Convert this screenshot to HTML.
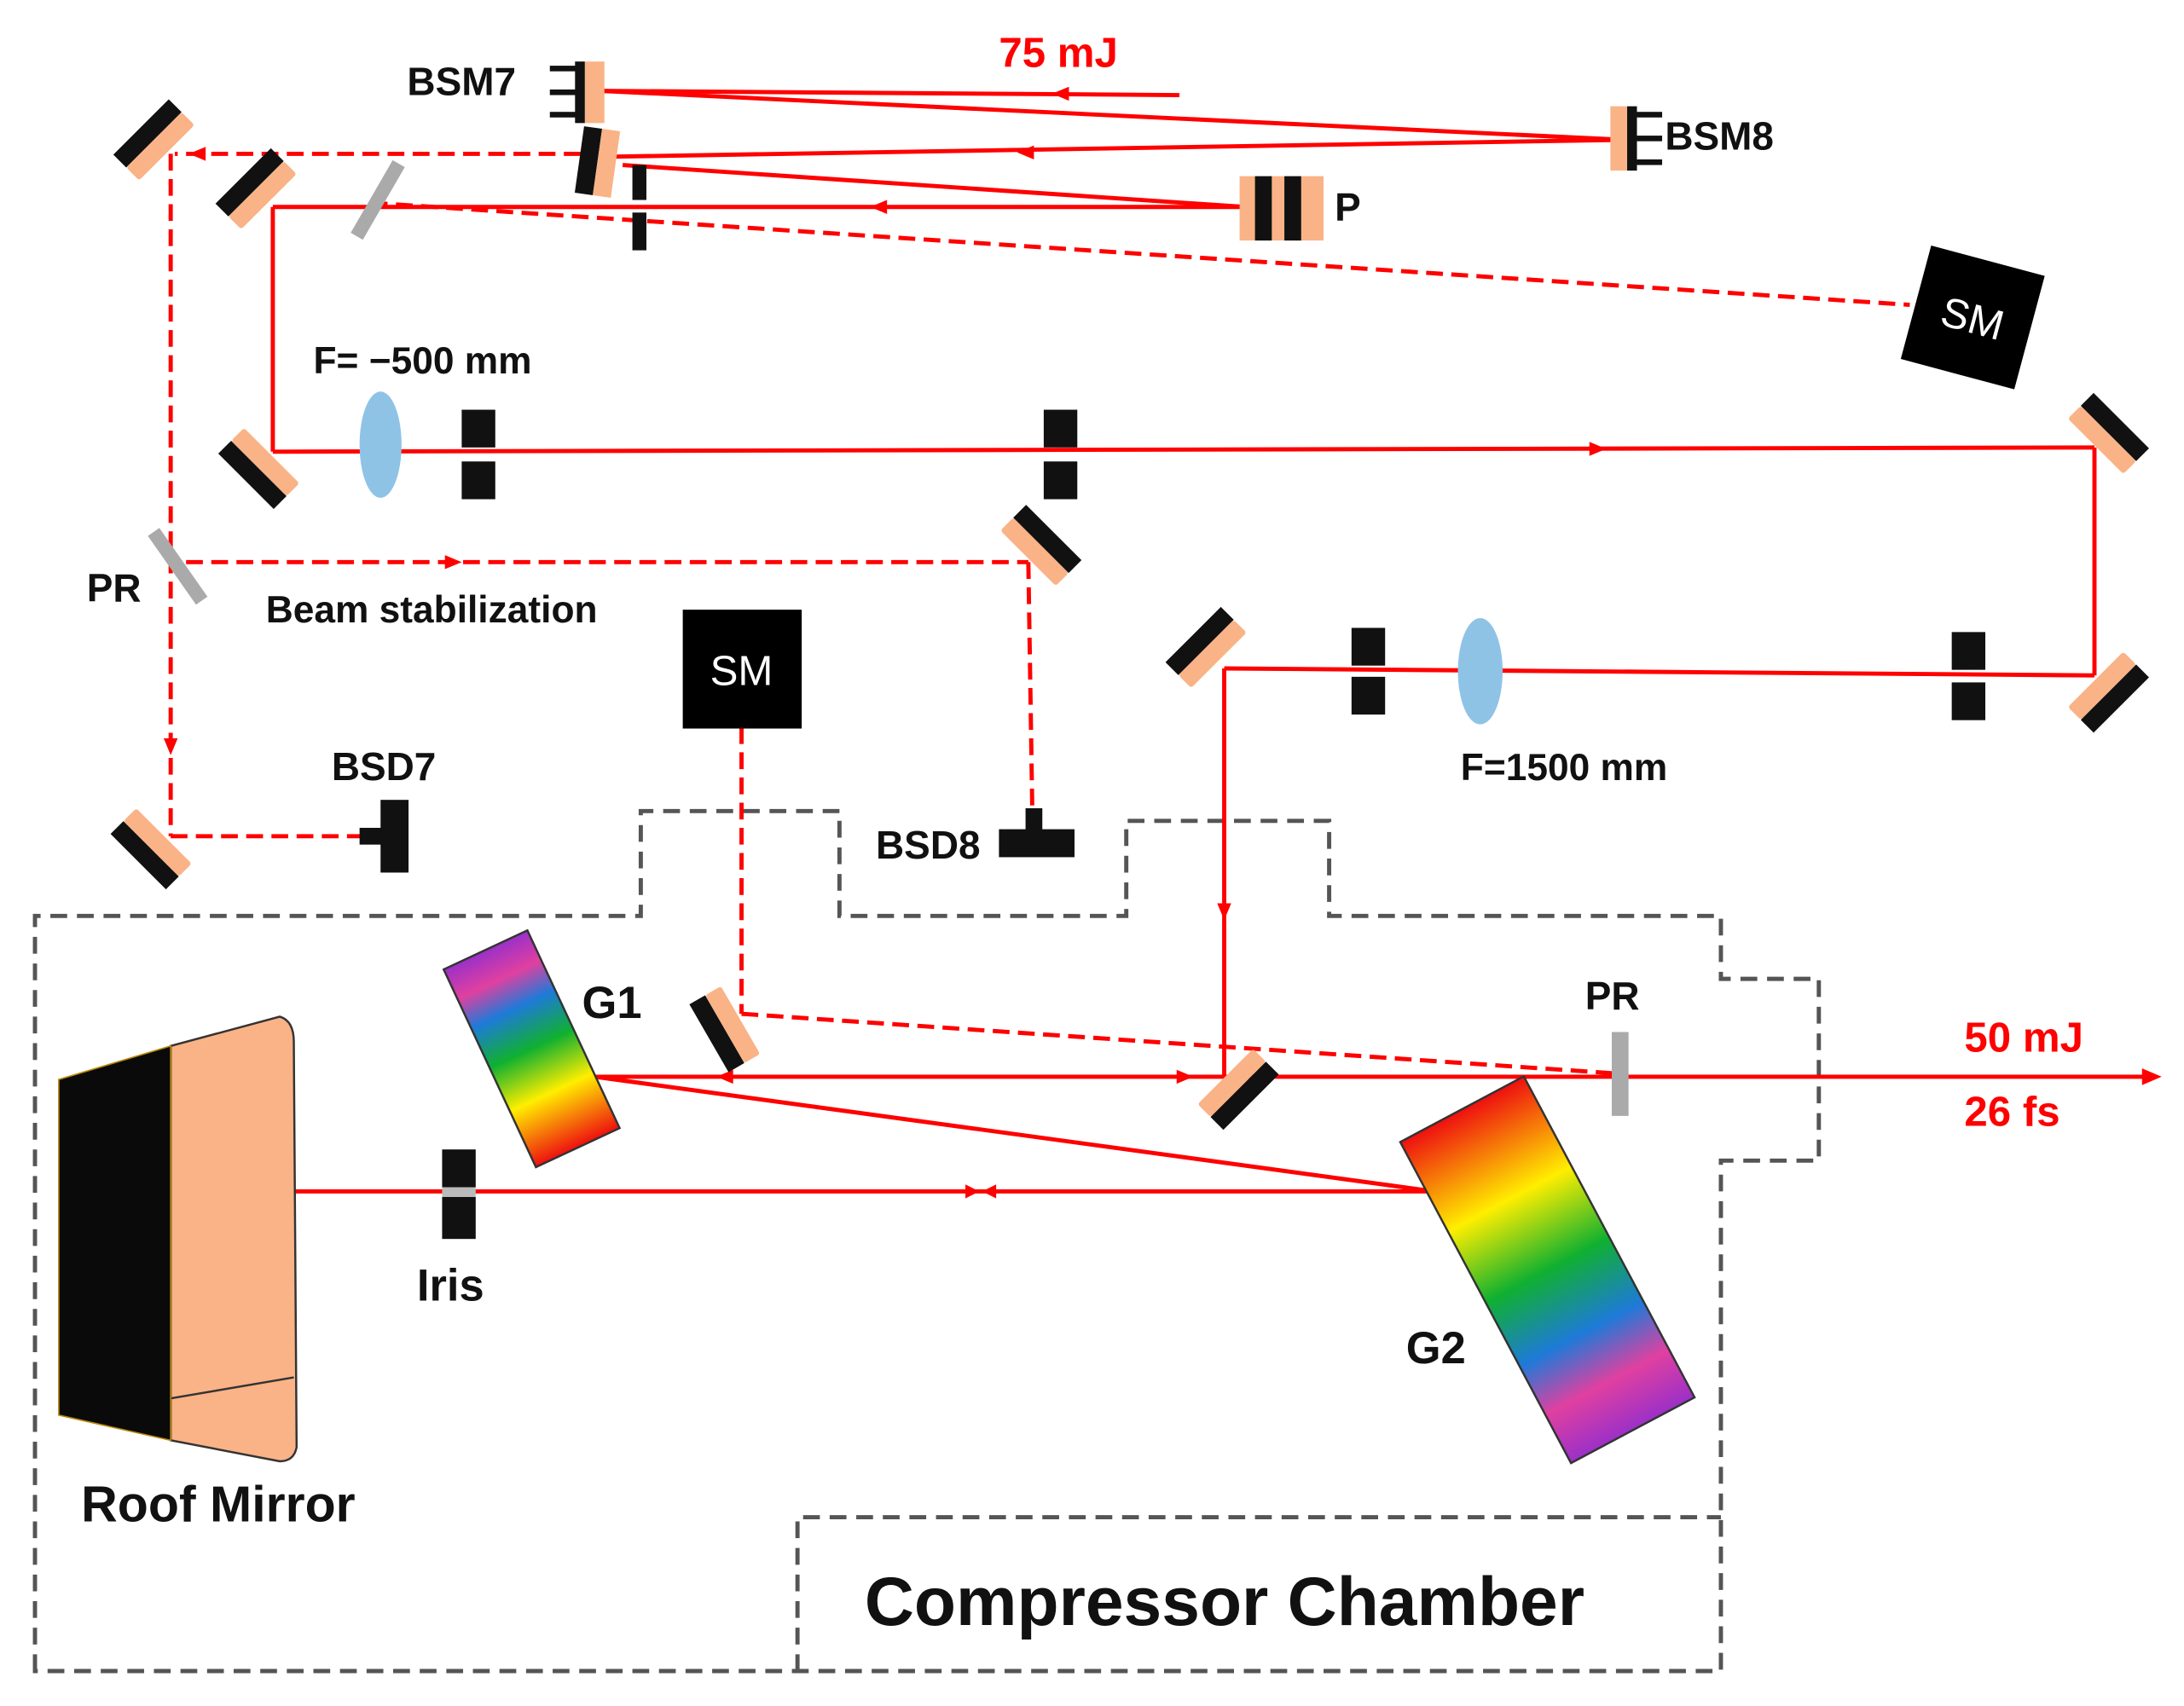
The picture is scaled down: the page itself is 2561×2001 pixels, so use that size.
<!DOCTYPE html>
<html><head><meta charset="utf-8"><style>
html,body{margin:0;padding:0;background:#fff;}
svg{display:block;}
text{font-family:"Liberation Sans",sans-serif;font-weight:bold;}
</style></head><body>
<svg width="2561" height="2001" viewBox="0 0 1561 1220" preserveAspectRatio="none" xmlns="http://www.w3.org/2000/svg">
<defs>
<g id="m"><rect x="-28" y="-13" width="56" height="13" fill="#111"/><rect x="-28" y="0" width="56" height="13" fill="#f9b386" rx="2"/></g>
<linearGradient id="g1" x1="0" y1="0" x2="0" y2="1">
<stop offset="0" stop-color="#9b30c8"/><stop offset="0.15" stop-color="#e040a0"/><stop offset="0.3" stop-color="#1e7ad8"/><stop offset="0.5" stop-color="#10b030"/><stop offset="0.72" stop-color="#ffee00"/><stop offset="1" stop-color="#ee1010"/></linearGradient>
<linearGradient id="g2" x1="0" y1="0" x2="0" y2="1">
<stop offset="0" stop-color="#ee1010"/><stop offset="0.28" stop-color="#ffee00"/><stop offset="0.5" stop-color="#10b030"/><stop offset="0.7" stop-color="#1e7ad8"/><stop offset="0.85" stop-color="#e040a0"/><stop offset="1" stop-color="#9b30c8"/></linearGradient>
</defs>

<!-- chamber outline -->
<g fill="none" stroke="#555" stroke-width="3" stroke-dasharray="12,7">
<path d="M25,1195 L25,655 L458,655 L458,580 L600,580 L600,655 L805,655 L805,587 L950,587 L950,655 L1230,655 L1230,700 L1300,700 L1300,830 L1230,830 L1230,1195 Z"/>
<path d="M570,1195 L570,1085 L1230,1085"/>
</g>

<!-- solid beams -->
<g stroke="#f00" stroke-width="3" fill="none">
<line x1="843" y1="68" x2="430" y2="65"/>
<line x1="430" y1="65" x2="1160" y2="100"/>
<line x1="1160" y1="100" x2="440" y2="112"/>
<line x1="445" y1="118" x2="890" y2="148"/>
<line x1="890" y1="148" x2="195" y2="148"/>
<line x1="195" y1="148" x2="195" y2="323"/>
<line x1="195" y1="323" x2="1497" y2="320"/>
<line x1="1497" y1="320" x2="1497" y2="483"/>
<line x1="1497" y1="483" x2="875" y2="478"/>
<line x1="875" y1="478" x2="875" y2="770"/>
<line x1="420" y1="770" x2="1535" y2="770"/>
<line x1="425" y1="770" x2="1025" y2="852"/>
<line x1="1025" y1="852" x2="210" y2="852"/>
</g>
<g fill="#f00">
<path d="M752,67 l12,-5 0,10z"/><path d="M727,109 l12,-5 0,10z"/><path d="M622,148 l12,-5 0,10z"/>
<path d="M1148,321 l-12,-5 0,10z"/><path d="M875,658 l-5,-12 10,0z"/>
<path d="M512,770 l12,-5 0,10z"/><path d="M853,770 l-12,-5 0,10z"/>
<path d="M1545,770 l-14,-6 0,12z"/>
<path d="M700,852 l-10,-5 0,10z"/><path d="M702,852 l10,-5 0,10z"/>
</g>

<!-- dashed beams -->
<g stroke="#f00" stroke-width="3" fill="none" stroke-dasharray="12,6">
<line x1="415" y1="110" x2="125" y2="110"/>
<line x1="122" y1="110" x2="122" y2="598"/>
<line x1="122" y1="598" x2="262" y2="598"/>
<line x1="133" y1="402" x2="735" y2="402"/>
<line x1="735" y1="402" x2="738" y2="590"/>
<line x1="265" y1="145" x2="1365" y2="218"/>
<line x1="530" y1="520" x2="530" y2="725"/>
<line x1="530" y1="725" x2="1160" y2="768"/>
</g>
<g fill="#f00">
<path d="M135,110 l12,-5 0,10z"/><path d="M330,402 l-12,-5 0,10z"/><path d="M122,540 l-5,-12 10,0z"/>
</g>

<!-- mirrors -->
<use href="#m" transform="translate(110,100) rotate(-45)"/>
<use href="#m" transform="translate(183,135) rotate(-45)"/>
<use href="#m" transform="translate(185,335) rotate(-135)"/>
<use href="#m" transform="translate(108,607) rotate(-135)"/>
<use href="#m" transform="translate(744,390) rotate(45)"/>
<use href="#m" transform="translate(862,463) rotate(-45)"/>
<use href="#m" transform="translate(1507,310) rotate(45)"/>
<use href="#m" transform="translate(1507,495) rotate(135)"/>
<use href="#m" transform="translate(518,736) rotate(-120)"/>
<use href="#m" transform="translate(885,779) rotate(135)"/>
<g transform="translate(428,116) rotate(8)"><rect x="-14" y="-24" width="13" height="48" fill="#111"/><rect x="-1" y="-24" width="13" height="48" fill="#f9b386"/></g>

<!-- gray partial reflectors -->
<rect x="-5" y="-30" width="10" height="60" fill="#aaa" transform="translate(270,143) rotate(30)"/>
<rect x="-5" y="-30" width="10" height="60" fill="#aaa" transform="translate(127,405) rotate(-35)"/>
<rect x="1152" y="738" width="12" height="60" fill="#aaa"/>

<!-- apertures -->
<rect x="330" y="293" width="24" height="27" fill="#111"/><rect x="330" y="330" width="24" height="27" fill="#111"/>
<rect x="746" y="293" width="24" height="27" fill="#111"/><rect x="746" y="330" width="24" height="27" fill="#111"/>
<rect x="966" y="449" width="24" height="27" fill="#111"/><rect x="966" y="484" width="24" height="27" fill="#111"/>
<rect x="1395" y="452" width="24" height="27" fill="#111"/><rect x="1395" y="488" width="24" height="27" fill="#111"/>
<rect x="316" y="822" width="24" height="27" fill="#111"/><rect x="316" y="849" width="24" height="7" fill="#bbb"/><rect x="316" y="856" width="24" height="30" fill="#111"/>
<rect x="452" y="118" width="10" height="25" fill="#111"/><rect x="452" y="152" width="10" height="27" fill="#111"/>

<!-- lenses -->
<ellipse cx="272" cy="318" rx="15" ry="38" fill="#8fc3e6"/>
<ellipse cx="1058" cy="480" rx="16" ry="38" fill="#8fc3e6"/>

<!-- SM boxes -->
<g transform="translate(1410,227) rotate(15)"><rect x="-42" y="-42" width="84" height="84" fill="#000"/><text x="0" y="11" fill="#fff" font-size="30" text-anchor="middle" style="font-weight:normal">SM</text></g>
<rect x="488" y="436" width="85" height="85" fill="#000"/><text x="530" y="490" fill="#fff" font-size="30" text-anchor="middle" style="font-weight:normal">SM</text>

<!-- BSM7 -->
<rect x="418" y="44" width="14" height="44" fill="#f9b386"/><rect x="411" y="44" width="7" height="44" fill="#111"/>
<g fill="#111"><rect x="393" y="47" width="20" height="4"/><rect x="393" y="64" width="20" height="4"/><rect x="393" y="80" width="20" height="4"/></g>
<!-- BSM8 -->
<rect x="1151" y="76" width="12" height="46" fill="#f9b386"/><rect x="1163" y="76" width="7" height="46" fill="#111"/>
<g fill="#111"><rect x="1170" y="80" width="18" height="4"/><rect x="1170" y="97" width="18" height="4"/><rect x="1170" y="114" width="18" height="4"/></g>
<!-- P -->
<rect x="886" y="126" width="60" height="46" fill="#f9b386"/><rect x="897" y="126" width="12" height="46" fill="#111"/><rect x="918" y="126" width="12" height="46" fill="#111"/>

<!-- BSD7 / BSD8 -->
<rect x="272" y="572" width="20" height="52" fill="#111"/><rect x="257" y="592" width="16" height="12" fill="#111"/>
<rect x="714" y="593" width="54" height="20" fill="#111"/><rect x="733" y="578" width="12" height="16" fill="#111"/>

<!-- G1 G2 -->
<rect x="-33" y="-78" width="66" height="156" fill="url(#g1)" stroke="#333" stroke-width="1.5" transform="translate(380,750) rotate(-25)"/>
<rect x="-50" y="-130" width="100" height="260" fill="url(#g2)" stroke="#333" stroke-width="1.5" transform="translate(1106,908) rotate(-28)"/>

<!-- roof mirror -->
<path d="M122,748 L200,727 Q210,730 210,745 L212,1035 Q210,1045 200,1045 L122,1030 Z" fill="#f9b386" stroke="#333" stroke-width="1.5"/>
<path d="M122,1000 L210,985" stroke="#333" stroke-width="1.5" fill="none"/>
<path d="M42,772 L122,748 L122,1030 L42,1012 Z" fill="#0a0a0a" stroke="#b8860b" stroke-width="1"/>

<!-- labels -->
<g fill="#111" font-size="28">
<text x="291" y="68">BSM7</text>
<text x="1190" y="107">BSM8</text>
<text x="954" y="158">P</text>
<text x="224" y="267" font-size="27">F= −500 mm</text>
<text x="62" y="430">PR</text>
<text x="190" y="445" font-size="27">Beam stabilization</text>
<text x="237" y="558">BSD7</text>
<text x="626" y="614">BSD8</text>
<text x="1044" y="558" font-size="27">F=1500 mm</text>
<text x="416" y="728" font-size="32">G1</text>
<text x="1133" y="722">PR</text>
<text x="298" y="930" font-size="32">Iris</text>
<text x="1005" y="975" font-size="32">G2</text>
<text x="58" y="1088" font-size="36">Roof Mirror</text>
<text x="618" y="1162" font-size="49">Compressor Chamber</text>
</g>
<g fill="#f00" font-size="30">
<text x="714" y="48">75 mJ</text>
<text x="1404" y="752">50 mJ</text>
<text x="1404" y="805">26 fs</text>
</g>
</svg>
</body></html>
